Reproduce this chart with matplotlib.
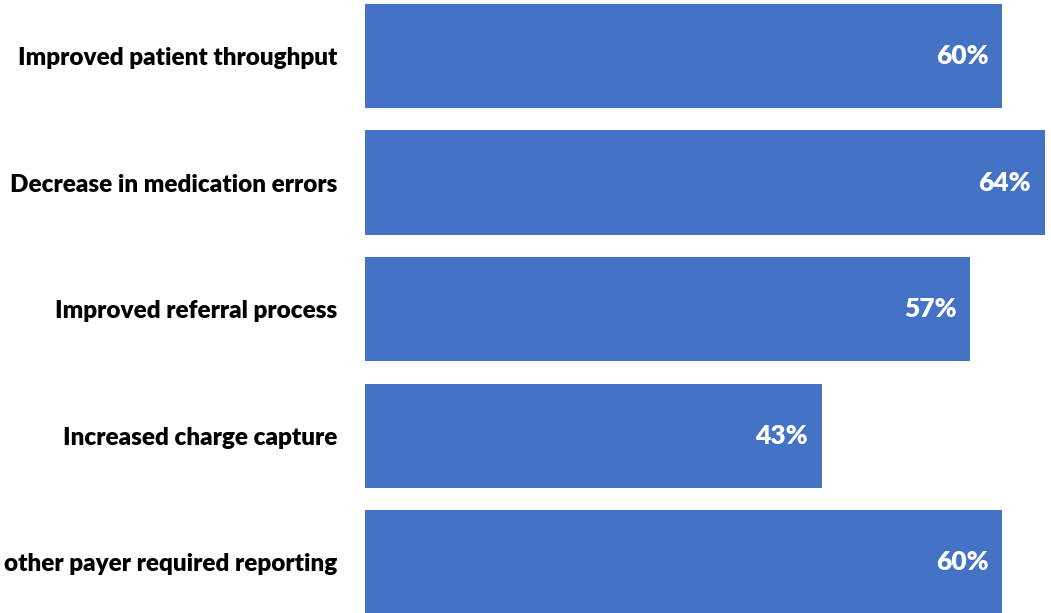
import matplotlib.pyplot as plt

plt.rcParams['font.family'] = ['Lato', 'DejaVu Sans']

categories = [
    'Improved patient throughput',
    'Decrease in medication errors',
    'Improved referral process',
    'Increased charge capture',
    'other payer required reporting',
]
values = [60, 64, 57, 43, 60]
value_labels = ['60%', '64%', '57%', '43%', '60%']

bar_color = '#4472C4'

fig = plt.figure(figsize=(10.51, 6.13), dpi=100)
ax = fig.add_axes([365 / 1051, 0, 684 / 1051, 1])

pos = list(range(len(categories)))
ax.barh(pos, values, height=0.825, color=bar_color)

for p, v, lab in zip(pos, values, value_labels):
    ax.annotate(lab, xy=(v, p), xytext=(-10, 0), textcoords='offset points',
                ha='right', va='center', color='white',
                fontsize=19, fontweight='heavy')

ax.set_xlim(0, 64.4)
ax.set_ylim(4.40, -0.442)
ax.set_yticks(pos)
ax.set_yticklabels(categories, fontsize=17.5, fontweight='heavy')
ax.tick_params(axis='y', length=0, pad=20)
ax.set_xticks([])
for s in ax.spines.values():
    s.set_visible(False)

fig.savefig('out.png', dpi=100)
